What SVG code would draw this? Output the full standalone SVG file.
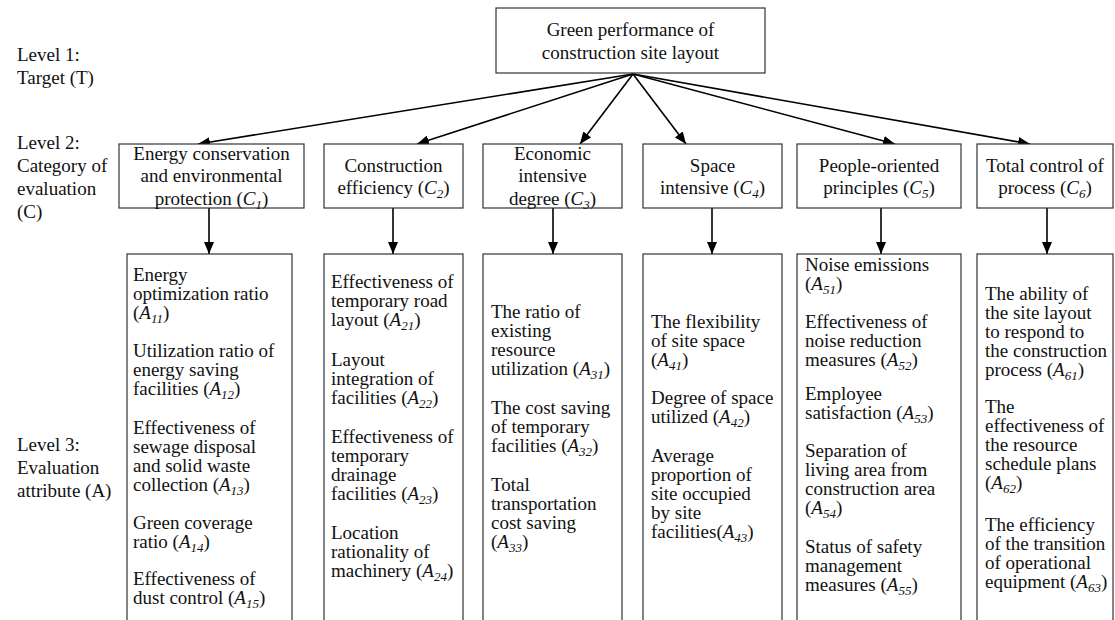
<svg xmlns="http://www.w3.org/2000/svg" width="1115" height="620" viewBox="0 0 1115 620">
<style>
text{font-family:"Liberation Serif","Times New Roman",serif;font-size:19px;fill:#111}
.c{text-anchor:middle}
.i{font-style:italic}
.s{font-size:13px;font-style:italic}
.box{fill:#fff;stroke:#333;stroke-width:1.2}
.con{stroke:#000;stroke-width:1.6;fill:none;marker-end:url(#ah)}
</style>
<defs>
<marker id="ah" markerUnits="userSpaceOnUse" markerWidth="13" markerHeight="10" refX="12" refY="5" orient="auto">
<path d="M0,0 L12,5 L0,10 z" fill="#000"/>
</marker>
</defs>
<rect width="1115" height="620" fill="#fff"/>

<g id="levels">
<text x="17" y="61">Level 1:</text>
<text x="17" y="84">Target (T)</text>
<text x="17" y="149">Level 2:</text>
<text x="17" y="172">Category of</text>
<text x="17" y="195">evaluation</text>
<text x="17" y="218">(C)</text>
<text x="17" y="451">Level 3:</text>
<text x="17" y="474">Evaluation</text>
<text x="17" y="497">attribute (A)</text>
</g>

<g id="connectors">
<line class="con" x1="633" y1="74" x2="198" y2="144"/>
<line class="con" x1="633" y1="74" x2="417" y2="144"/>
<line class="con" x1="633" y1="74" x2="580" y2="144"/>
<line class="con" x1="633" y1="74" x2="686" y2="144"/>
<line class="con" x1="633" y1="74" x2="895" y2="144"/>
<line class="con" x1="633" y1="74" x2="1030" y2="144"/>
<line class="con" x1="209" y1="208" x2="209" y2="254"/>
<line class="con" x1="393" y1="208" x2="393" y2="254"/>
<line class="con" x1="553" y1="208" x2="553" y2="254"/>
<line class="con" x1="712" y1="208" x2="712" y2="254"/>
<line class="con" x1="881" y1="208" x2="881" y2="254"/>
<line class="con" x1="1047" y1="208" x2="1047" y2="254"/>
</g>

<g id="T">
<rect class="box" x="496" y="8" width="269" height="65"/>
<text class="c" x="630.5" y="36">Green performance of</text>
<text class="c" x="630.5" y="59">construction site layout</text>
</g>

<g id="C1">
<rect class="box" x="119" y="144" width="185" height="64"/>
<text class="c" x="211.5" y="160">Energy conservation</text>
<text class="c" x="211.5" y="182">and environmental</text>
<text class="c" x="211.5" y="205">protection (<tspan class="i">C</tspan><tspan class="s" dy="4">1</tspan><tspan dy="-4">)</tspan></text>
</g>
<g id="C2">
<rect class="box" x="324" y="144" width="139" height="64"/>
<text class="c" x="393.5" y="172">Construction</text>
<text class="c" x="393.5" y="194">efficiency (<tspan class="i">C</tspan><tspan class="s" dy="4">2</tspan><tspan dy="-4">)</tspan></text>
</g>
<g id="C3">
<rect class="box" x="483" y="144" width="139" height="64"/>
<text class="c" x="552.5" y="160">Economic</text>
<text class="c" x="552.5" y="182">intensive</text>
<text class="c" x="552.5" y="205">degree (<tspan class="i">C</tspan><tspan class="s" dy="4">3</tspan><tspan dy="-4">)</tspan></text>
</g>
<g id="C4">
<rect class="box" x="643" y="144" width="139" height="64"/>
<text class="c" x="712.5" y="172">Space</text>
<text class="c" x="712.5" y="194">intensive (<tspan class="i">C</tspan><tspan class="s" dy="4">4</tspan><tspan dy="-4">)</tspan></text>
</g>
<g id="C5">
<rect class="box" x="797" y="144" width="164" height="64"/>
<text class="c" x="879" y="172">People-oriented</text>
<text class="c" x="879" y="194">principles (<tspan class="i">C</tspan><tspan class="s" dy="4">5</tspan><tspan dy="-4">)</tspan></text>
</g>
<g id="C6">
<rect class="box" x="977" y="144" width="136" height="64"/>
<text class="c" x="1045" y="172">Total control of</text>
<text class="c" x="1045" y="194">process (<tspan class="i">C</tspan><tspan class="s" dy="4">6</tspan><tspan dy="-4">)</tspan></text>
</g>

<g id="A1">
<rect class="box" x="127" y="254" width="165" height="372"/>
<text x="133" y="281">Energy</text>
<text x="133" y="300">optimization ratio</text>
<text x="133" y="319">(<tspan class="i">A</tspan><tspan class="s" dy="4">11</tspan><tspan dy="-4">)</tspan></text>
<text x="133" y="357">Utilization ratio of</text>
<text x="133" y="376">energy saving</text>
<text x="133" y="395">facilities (<tspan class="i">A</tspan><tspan class="s" dy="4">12</tspan><tspan dy="-4">)</tspan></text>
<text x="133" y="434">Effectiveness of</text>
<text x="133" y="453">sewage disposal</text>
<text x="133" y="472">and solid waste</text>
<text x="133" y="491">collection (<tspan class="i">A</tspan><tspan class="s" dy="4">13</tspan><tspan dy="-4">)</tspan></text>
<text x="133" y="529">Green coverage</text>
<text x="133" y="548">ratio (<tspan class="i">A</tspan><tspan class="s" dy="4">14</tspan><tspan dy="-4">)</tspan></text>
<text x="133" y="585">Effectiveness of</text>
<text x="133" y="604">dust control (<tspan class="i">A</tspan><tspan class="s" dy="4">15</tspan><tspan dy="-4">)</tspan></text>
</g>

<g id="A2">
<rect class="box" x="324" y="254" width="139" height="372"/>
<text x="331" y="288">Effectiveness of</text>
<text x="331" y="307">temporary road</text>
<text x="331" y="326">layout (<tspan class="i">A</tspan><tspan class="s" dy="4">21</tspan><tspan dy="-4">)</tspan></text>
<text x="331" y="366">Layout</text>
<text x="331" y="385">integration of</text>
<text x="331" y="404">facilities (<tspan class="i">A</tspan><tspan class="s" dy="4">22</tspan><tspan dy="-4">)</tspan></text>
<text x="331" y="443">Effectiveness of</text>
<text x="331" y="462">temporary</text>
<text x="331" y="481">drainage</text>
<text x="331" y="500">facilities (<tspan class="i">A</tspan><tspan class="s" dy="4">23</tspan><tspan dy="-4">)</tspan></text>
<text x="331" y="539">Location</text>
<text x="331" y="558">rationality of</text>
<text x="331" y="577">machinery (<tspan class="i">A</tspan><tspan class="s" dy="4">24</tspan><tspan dy="-4">)</tspan></text>
</g>

<g id="A3">
<rect class="box" x="483" y="254" width="139" height="372"/>
<text x="491" y="318">The ratio of</text>
<text x="491" y="337">existing</text>
<text x="491" y="356">resource</text>
<text x="491" y="375">utilization (<tspan class="i">A</tspan><tspan class="s" dy="4">31</tspan><tspan dy="-4">)</tspan></text>
<text x="491" y="414">The cost saving</text>
<text x="491" y="433">of temporary</text>
<text x="491" y="452">facilities (<tspan class="i">A</tspan><tspan class="s" dy="4">32</tspan><tspan dy="-4">)</tspan></text>
<text x="491" y="491">Total</text>
<text x="491" y="510">transportation</text>
<text x="491" y="529">cost saving</text>
<text x="491" y="548">(<tspan class="i">A</tspan><tspan class="s" dy="4">33</tspan><tspan dy="-4">)</tspan></text>
</g>

<g id="A4">
<rect class="box" x="643" y="254" width="139" height="372"/>
<text x="651" y="328">The flexibility</text>
<text x="651" y="347">of site space</text>
<text x="651" y="366">(<tspan class="i">A</tspan><tspan class="s" dy="4">41</tspan><tspan dy="-4">)</tspan></text>
<text x="651" y="404">Degree of space</text>
<text x="651" y="423">utilized (<tspan class="i">A</tspan><tspan class="s" dy="4">42</tspan><tspan dy="-4">)</tspan></text>
<text x="651" y="462">Average</text>
<text x="651" y="481">proportion of</text>
<text x="651" y="500">site occupied</text>
<text x="651" y="519">by site</text>
<text x="651" y="538">facilities(<tspan class="i">A</tspan><tspan class="s" dy="4">43</tspan><tspan dy="-4">)</tspan></text>
</g>

<g id="A5">
<rect class="box" x="797" y="254" width="164" height="372"/>
<text x="805" y="271">Noise emissions</text>
<text x="805" y="290">(<tspan class="i">A</tspan><tspan class="s" dy="4">51</tspan><tspan dy="-4">)</tspan></text>
<text x="805" y="328">Effectiveness of</text>
<text x="805" y="347">noise reduction</text>
<text x="805" y="366">measures (<tspan class="i">A</tspan><tspan class="s" dy="4">52</tspan><tspan dy="-4">)</tspan></text>
<text x="805" y="400">Employee</text>
<text x="805" y="419">satisfaction (<tspan class="i">A</tspan><tspan class="s" dy="4">53</tspan><tspan dy="-4">)</tspan></text>
<text x="805" y="457">Separation of</text>
<text x="805" y="476">living area from</text>
<text x="805" y="495">construction area</text>
<text x="805" y="514">(<tspan class="i">A</tspan><tspan class="s" dy="4">54</tspan><tspan dy="-4">)</tspan></text>
<text x="805" y="553">Status of safety</text>
<text x="805" y="572">management</text>
<text x="805" y="591">measures (<tspan class="i">A</tspan><tspan class="s" dy="4">55</tspan><tspan dy="-4">)</tspan></text>
</g>

<g id="A6">
<rect class="box" x="977" y="254" width="136" height="372"/>
<text x="985" y="300">The ability of</text>
<text x="985" y="319">the site layout</text>
<text x="985" y="338">to respond to</text>
<text x="985" y="357">the construction</text>
<text x="985" y="376">process (<tspan class="i">A</tspan><tspan class="s" dy="4">61</tspan><tspan dy="-4">)</tspan></text>
<text x="985" y="413">The</text>
<text x="985" y="432">effectiveness of</text>
<text x="985" y="451">the resource</text>
<text x="985" y="470">schedule plans</text>
<text x="985" y="489">(<tspan class="i">A</tspan><tspan class="s" dy="4">62</tspan><tspan dy="-4">)</tspan></text>
<text x="985" y="531">The efficiency</text>
<text x="985" y="550">of the transition</text>
<text x="985" y="569">of operational</text>
<text x="985" y="588">equipment (<tspan class="i">A</tspan><tspan class="s" dy="4">63</tspan><tspan dy="-4">)</tspan></text>
</g>
</svg>
